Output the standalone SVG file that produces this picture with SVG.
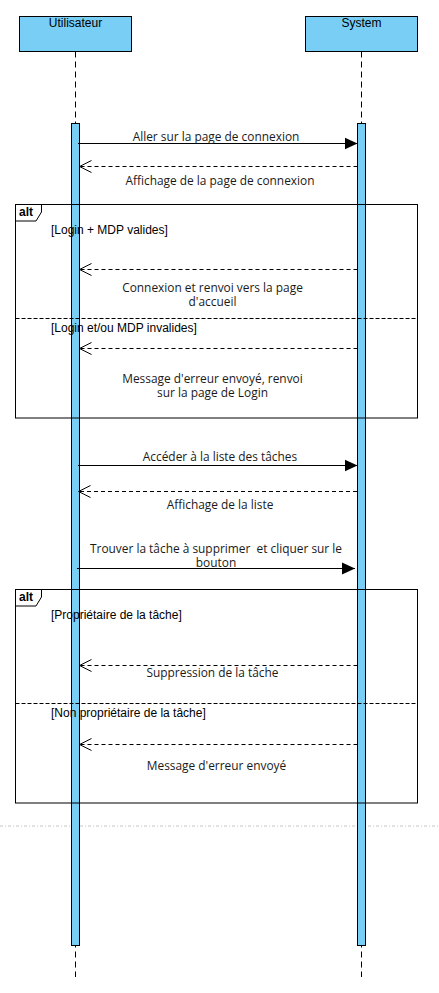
<svg xmlns="http://www.w3.org/2000/svg" width="439" height="993" viewBox="0 0 439 993">
<style>
.bg{fill:#ffffff}
.head{fill:#78cef4;stroke:#000;stroke-width:1}
.bar{fill:#78cef4;stroke:#000;stroke-width:1}
.life{stroke:#000;stroke-width:1;stroke-dasharray:6 4;fill:none}
.msg{stroke:#000;stroke-width:1;fill:none}
.ret{stroke:#000;stroke-width:1;fill:none;stroke-dasharray:4 3}
.frame{fill:none;stroke:#000;stroke-width:1}
.div{stroke:#000;stroke-width:1;stroke-dasharray:4 2;fill:none}
.htxt{font-family:"Liberation Sans",Arial,sans-serif;font-size:12px;fill:#000;text-anchor:middle}
.guard{font-family:"Liberation Sans",Arial,sans-serif;font-size:12px;fill:#000}
.alt{font-family:"Liberation Sans",Arial,sans-serif;font-size:12px;font-weight:bold;fill:#000}
.lbl{font-family:"Open Sans","Noto Sans",sans-serif;font-size:11.9px;fill:#1a1a1a;text-anchor:middle}
.page{stroke:#c4c4c4;stroke-width:1;stroke-dasharray:3 2 1 2;fill:none}
</style>
<defs>
<marker id="filled" markerUnits="userSpaceOnUse" markerWidth="14" markerHeight="14" refX="13" refY="7" orient="auto">
<path d="M0,1 L13,7 L0,13 z" fill="#000"/>
</marker>
<marker id="open" markerUnits="userSpaceOnUse" markerWidth="14" markerHeight="14" refX="12.5" refY="7" orient="auto">
<path d="M0.5,1 L12.5,7 L0.5,13" fill="none" stroke="#000" stroke-width="1"/>
</marker>
</defs>
<rect class="bg" x="0" y="0" width="439" height="993"/>
<line class="page" x1="0" y1="826" x2="439" y2="826"/>

<g id="utilisateur">
<rect class="head" x="19.5" y="16.5" width="112" height="35"/>
<text class="htxt" x="75.5" y="27">Utilisateur</text>
<line class="life" x1="75.5" y1="51.5" x2="75.5" y2="977"/>
<rect class="bar" x="71.5" y="123.5" width="8" height="822"/>
</g>

<g id="system">
<rect class="head" x="305.5" y="16.5" width="112" height="35"/>
<text class="htxt" x="361.5" y="27">System</text>
<line class="life" x1="361.5" y1="51.5" x2="361.5" y2="977"/>
<rect class="bar" x="357.5" y="123.5" width="8" height="822"/>
</g>

<g id="alt1">
<rect class="frame" x="15.5" y="204.5" width="402" height="213.5"/>
<path class="frame" d="M15.5,221 H36 L41.5,212 V204.5"/>
<text class="alt" x="19" y="216">alt</text>
<line class="div" x1="15.5" y1="318.5" x2="417.5" y2="318.5"/>
<text class="guard" x="51" y="234">[Login + MDP valides]</text>
<text class="guard" x="51" y="331.5">[Login et/ou MDP invalides]</text>
</g>

<g id="alt2">
<rect class="frame" x="15.5" y="589.5" width="402" height="213.5"/>
<path class="frame" d="M15.5,606 H36 L41.5,597 V589.5"/>
<text class="alt" x="19" y="601">alt</text>
<line class="div" x1="15.5" y1="703.5" x2="417.5" y2="703.5"/>
<text class="guard" x="51" y="619">[Propriétaire de la tâche]</text>
<text class="guard" x="51" y="716.5">[Non propriétaire de la tâche]</text>
</g>

<g id="connectors">
<line class="msg" x1="78" y1="143.5" x2="357.5" y2="143.5" marker-end="url(#filled)"/>
<text class="lbl" x="216" y="141">Aller sur la page de connexion</text>

<line class="ret" x1="357.5" y1="166.5" x2="79.5" y2="166.5" marker-end="url(#open)"/>
<text class="lbl" x="220" y="185">Affichage de la page de connexion</text>

<line class="ret" x1="357.5" y1="269.5" x2="79.5" y2="269.5" marker-end="url(#open)"/>
<text class="lbl" x="212.5" y="291.5"><tspan x="212.5" y="291.5">Connexion et renvoi vers la page</tspan><tspan x="212.5" y="305.5">d'accueil</tspan></text>

<line class="ret" x1="357.5" y1="348.5" x2="79.5" y2="348.5" marker-end="url(#open)"/>
<text class="lbl" x="212.5" y="382.5"><tspan x="212.5" y="382.5">Message d'erreur envoyé, renvoi</tspan><tspan x="212.5" y="396.5">sur la page de Login</tspan></text>

<line class="msg" x1="78" y1="465.5" x2="357.5" y2="465.5" marker-end="url(#filled)"/>
<text class="lbl" x="220" y="460.5">Accéder à la liste des tâches</text>

<line class="ret" x1="357" y1="491.5" x2="78.5" y2="491.5" marker-end="url(#open)"/>
<text class="lbl" x="220" y="508.5">Affichage de la liste</text>

<line class="msg" x1="77" y1="568.5" x2="355" y2="568.5" marker-end="url(#filled)"/>
<text class="lbl" x="216" y="553.3" xml:space="preserve"><tspan x="216" y="553.3">Trouver la tâche à supprimer  et cliquer sur le</tspan><tspan x="216" y="567.3">bouton</tspan></text>

<line class="ret" x1="357.5" y1="665.5" x2="79.5" y2="665.5" marker-end="url(#open)"/>
<text class="lbl" x="212.5" y="676.7">Suppression de la tâche</text>

<line class="ret" x1="357.5" y1="744.5" x2="79.5" y2="744.5" marker-end="url(#open)"/>
<text class="lbl" x="216.5" y="770">Message d'erreur envoyé</text>
</g>
</svg>
